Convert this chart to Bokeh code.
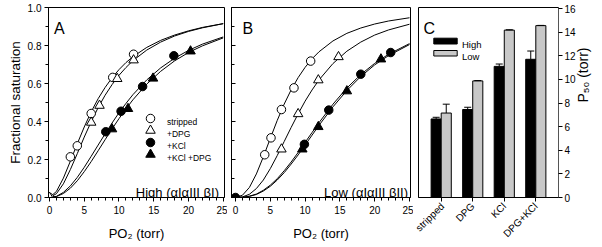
from math import pi
from bokeh.plotting import figure
from bokeh.models import (ColumnDataSource, Label, SingleIntervalTicker,
                          PrintfTickFormatter, CustomJSTickFormatter, Whisker, TeeHead,
                          FactorRange, Range1d)
from bokeh.transform import dodge
from bokeh.layouts import row
from bokeh.embed import file_html
from bokeh.resources import INLINE

FONT = "Liberation Sans"

# ---------------- data ----------------
FIT_X = [0, 1, 2, 3, 4, 5, 6, 7, 8, 9, 10, 11, 12, 14, 16, 18, 20, 22, 25]

A_FIT_STRIPPED = [0, 0.032, 0.102, 0.191, 0.283, 0.371, 0.451, 0.520, 0.579, 0.630, 0.673, 0.710, 0.741, 0.790, 0.827, 0.855, 0.877, 0.895, 0.915]
A_FIT_DPG = [0, 0.020, 0.072, 0.147, 0.231, 0.318, 0.399, 0.473, 0.538, 0.594, 0.643, 0.684, 0.720, 0.776, 0.818, 0.850, 0.874, 0.893, 0.915]
A_FIT_KCL = [0, 0.006, 0.027, 0.061, 0.106, 0.159, 0.217, 0.276, 0.335, 0.392, 0.446, 0.495, 0.541, 0.619, 0.682, 0.733, 0.774, 0.807, 0.845]
A_FIT_KCL_DPG = [0, 0.005, 0.021, 0.049, 0.088, 0.136, 0.189, 0.246, 0.304, 0.361, 0.415, 0.466, 0.514, 0.597, 0.664, 0.719, 0.763, 0.798, 0.840]

B_FIT_STRIPPED = [0, 0.012, 0.053, 0.124, 0.214, 0.311, 0.406, 0.492, 0.567, 0.631, 0.685, 0.730, 0.767, 0.824, 0.864, 0.892, 0.913, 0.929, 0.946]
B_FIT_DPG = [0, 0.003, 0.017, 0.047, 0.092, 0.152, 0.221, 0.295, 0.369, 0.440, 0.507, 0.566, 0.619, 0.705, 0.770, 0.818, 0.855, 0.882, 0.912]
B_FIT_KCL = [0, 0.001, 0.007, 0.018, 0.038, 0.065, 0.099, 0.141, 0.187, 0.237, 0.290, 0.342, 0.394, 0.491, 0.576, 0.647, 0.706, 0.754, 0.810]
B_FIT_KCL_DPG = [0, 0.001, 0.006, 0.016, 0.034, 0.059, 0.092, 0.131, 0.176, 0.224, 0.276, 0.328, 0.380, 0.477, 0.563, 0.637, 0.698, 0.747, 0.805]

A_STRIPPED_X = [0, 3.0, 4.0, 6.0, 9.1, 12.1]
A_STRIPPED_Y = [0, 0.214, 0.272, 0.442, 0.632, 0.754]
A_DPG_X = [0, 6.0, 7.2, 9.75, 12.1]
A_DPG_Y = [0, 0.395, 0.484, 0.625, 0.723]
A_KCL_X = [8.1, 10.3, 13.4, 17.9]
A_KCL_Y = [0.346, 0.454, 0.584, 0.746]
A_KCL_DPG_X = [9.0, 11.3, 14.9, 20.3]
A_KCL_DPG_Y = [0.360, 0.467, 0.627, 0.770]

B_STRIPPED_X = [4.2, 5.1, 6.6, 8.4, 10.8]
B_STRIPPED_Y = [0.225, 0.314, 0.463, 0.577, 0.718]
B_DPG_X = [6.6, 9.0, 11.9, 14.8]
B_DPG_Y = [0.254, 0.440, 0.618, 0.740]
B_KCL_X = [0, 9.9, 13.4, 18.0, 22.3]
B_KCL_Y = [0, 0.280, 0.460, 0.649, 0.763]
B_KCL_DPG_X = [9.6, 11.9, 16.0, 20.9]
B_KCL_DPG_Y = [0.254, 0.372, 0.560, 0.728]

LEGEND_LABELS = ["stripped", "+DPG", "+KCl", "+KCl +DPG"]

CATEGORIES = ["stripped", "DPG", "KCl", "DPG+KCl"]
P50_HIGH = [6.65, 7.45, 11.1, 11.7]
P50_HIGH_ERR = [0.14, 0.19, 0.2, 0.7]
P50_LOW = [7.15, 9.87, 14.17, 14.55]
P50_LOW_ERR = [0.75, 0.03, 0.03, 0.02]

# ---------------- pixel helpers (layout only) ----------------
A_SX = 173.7 / 25.0
B_SX = 174.0 / 25.0
Y_SY = 190.0
def ax(px): return (px - 49.0) / A_SX
def bx(px): return (px - 235.0) / B_SX
def ay(py): return (197.0 - py) / Y_SY
C_SX = 140.0 / 4.44
C_SY = 189.0 / 16.0
def cx(px): return -0.22 + (px - 418.0) / C_SX
def cy(py): return (197.0 - py) / C_SY


def lab(p, x, y, text, size, align="left", baseline="alphabetic", angle=0.0):
    p.add_layout(Label(x=x, y=y, text=text, text_font=FONT, text_font_size=size,
                       text_align=align, text_baseline=baseline, angle=angle,
                       text_color="black"))


def style_axes(p):
    p.xgrid.visible = False
    p.ygrid.visible = False
    for a in (p.xaxis[0], p.yaxis[0]):
        a.axis_line_color = "black"
        a.major_label_text_font = FONT
        a.major_label_text_font_size = "10px"
        a.major_label_text_color = "black"
        a.major_tick_line_color = "black"
        a.minor_tick_line_color = "black"
        a.axis_label_text_font = FONT
        a.axis_label_text_font_size = "13px"
        a.axis_label_text_font_style = "normal"
        a.axis_label_text_color = "black"
    p.xaxis.ticker = SingleIntervalTicker(interval=5, num_minor_ticks=5)
    p.xaxis.major_tick_out = 4
    p.xaxis.major_tick_in = 0
    p.xaxis.minor_tick_out = 3
    p.xaxis.minor_tick_in = 0
    p.xaxis.major_label_standoff = 4
    p.xaxis.axis_label = "PO\u2082 (torr)"
    p.xaxis.axis_label_standoff = 9
    p.yaxis.ticker = SingleIntervalTicker(interval=0.2, num_minor_ticks=2)


def curves_and_points(p, fits, pts):
    for f in fits:
        p.line(FIT_X, f, line_color="black", line_width=1)
    for (xs, ys, marker, fill) in pts:
        size = 8.5 if marker == "circle" else 9.5
        p.scatter(xs, ys, marker=marker, size=size, fill_color=fill,
                  line_color="black", line_width=1)


# ---------------- panel A ----------------
pA = figure(width=227, height=247, output_backend="svg", toolbar_location=None,
            x_range=Range1d(ax(48), ax(224)), y_range=Range1d(0, ay(7)),
            min_border_left=48, min_border_right=3, min_border_top=7, min_border_bottom=50,
            outline_line_color="black", background_fill_color="white", border_fill_color="white")
style_axes(pA)
pA.yaxis.formatter = PrintfTickFormatter(format="%.1f")
pA.yaxis.major_tick_out = 4
pA.yaxis.major_tick_in = 0
pA.yaxis.minor_tick_out = 3
pA.yaxis.minor_tick_in = 0
pA.yaxis.major_label_standoff = 3
pA.yaxis.axis_label = "Fractional saturation"
pA.yaxis.axis_label_text_font_size = "13.5px"
pA.yaxis.axis_label_standoff = 2
curves_and_points(pA, [A_FIT_STRIPPED, A_FIT_DPG, A_FIT_KCL, A_FIT_KCL_DPG],
                  [(A_STRIPPED_X, A_STRIPPED_Y, "circle", "white"),
                   (A_DPG_X, A_DPG_Y, "triangle", "white"),
                   (A_KCL_X, A_KCL_Y, "circle", "black"),
                   (A_KCL_DPG_X, A_KCL_DPG_Y, "triangle", "black")])
# legend
leg_style = [("circle", "white"), ("triangle", "white"), ("circle", "black"), ("triangle", "black")]
for i, ((m, f), t) in enumerate(zip(leg_style, LEGEND_LABELS)):
    rowy = 118 + 12 * i
    pA.scatter([ax(150)], [ay(rowy)], marker=m, size=8.5 if m == "circle" else 9.5,
               fill_color=f, line_color="black", line_width=1)
    lab(pA, ax(166.5), ay(rowy + 3.2), t, "8.5px")
lab(pA, ax(53.5), ay(28.3), "A", "16px")
lab(pA, ax(218.5), ay(191.5), "High (\u03b1I\u03b1III \u03b2I)", "13px", align="right")

# ---------------- panel B ----------------
pB = figure(width=186, height=247, output_backend="svg", toolbar_location=None,
            x_range=Range1d(bx(231), bx(410)), y_range=Range1d(0, ay(7)),
            min_border_left=4, min_border_right=3, min_border_top=7, min_border_bottom=50,
            outline_line_color="black", background_fill_color="white", border_fill_color="white")
style_axes(pB)
pB.yaxis.major_tick_out = 0
pB.yaxis.major_tick_in = 4
pB.yaxis.minor_tick_out = 0
pB.yaxis.minor_tick_in = 3
pB.yaxis.formatter = CustomJSTickFormatter(code="return ''")
pB.yaxis.major_label_standoff = 0
curves_and_points(pB, [B_FIT_STRIPPED, B_FIT_DPG, B_FIT_KCL, B_FIT_KCL_DPG],
                  [(B_STRIPPED_X, B_STRIPPED_Y, "circle", "white"),
                   (B_DPG_X, B_DPG_Y, "triangle", "white"),
                   (B_KCL_DPG_X, B_KCL_DPG_Y, "triangle", "black"),
                   (B_KCL_X, B_KCL_Y, "circle", "black")])
lab(pB, bx(242), ay(28.3), "B", "16px")
lab(pB, bx(407.5), ay(191.5), "Low (\u03b1I\u03b1III \u03b2II)", "13px", align="right")

# ---------------- panel C ----------------
src = ColumnDataSource(dict(
    cat=CATEGORIES, high=P50_HIGH, low=P50_LOW,
    high_up=[h + e for h, e in zip(P50_HIGH, P50_HIGH_ERR)],
    low_up=[l + e for l, e in zip(P50_LOW, P50_LOW_ERR)],
))
pC = figure(width=189, height=247, output_backend="svg", toolbar_location=None,
            x_range=FactorRange(*CATEGORIES, range_padding=0.11),
            y_range=Range1d(0, cy(7)), y_axis_location="right",
            min_border_left=5, min_border_right=44, min_border_top=7, min_border_bottom=50,
            outline_line_color="black", background_fill_color="white", border_fill_color="white")
pC.xgrid.visible = False
pC.ygrid.visible = False
pC.vbar(x=dodge("cat", -0.16, range=pC.x_range), top="high", width=0.32, source=src,
        fill_color="black", line_color="black", line_width=1)
pC.vbar(x=dodge("cat", 0.16, range=pC.x_range), top="low", width=0.32, source=src,
        fill_color="#c8c8c8", line_color="black", line_width=1)
pC.add_layout(Whisker(base=dodge("cat", -0.16, range=pC.x_range), lower="high", upper="high_up",
                      source=src, upper_head=TeeHead(size=7, line_color="black"), lower_head=None,
                      line_color="black", level="overlay"))
pC.add_layout(Whisker(base=dodge("cat", 0.16, range=pC.x_range), lower="low", upper="low_up",
                      source=src, upper_head=TeeHead(size=7, line_color="black"), lower_head=None,
                      line_color="black", level="overlay"))
ya = pC.yaxis[0]
ya.ticker = SingleIntervalTicker(interval=2, num_minor_ticks=0)
ya.axis_line_color = "#555555"
ya.major_tick_out = 4
ya.major_tick_in = 0
ya.minor_tick_line_color = None
ya.major_label_text_font = FONT
ya.major_label_text_font_size = "10px"
ya.major_label_text_color = "black"
ya.major_label_standoff = 2
ya.axis_label = "P\u2085\u2080 (torr)"
ya.axis_label_text_font = FONT
ya.axis_label_text_font_size = "14px"
ya.axis_label_text_font_style = "normal"
ya.axis_label_text_color = "black"
ya.axis_label_orientation = pi / 2
ya.axis_label_standoff = 4
xa = pC.xaxis[0]
xa.axis_line_color = "black"
xa.major_tick_out = 4
xa.major_tick_in = 0
xa.major_label_orientation = pi / 4
xa.major_label_text_font = FONT
xa.major_label_text_font_size = "10px"
xa.major_label_text_color = "black"
xa.major_label_standoff = 3
# legend C
pC.quad(left=cx(433.3), right=cx(456.7), top=cy(37.7), bottom=cy(43.5),
        fill_color="black", line_color="black")
pC.quad(left=cx(433.3), right=cx(456.7), top=cy(50), bottom=cy(55.5),
        fill_color="#c8c8c8", line_color="black")
lab(pC, cx(461.5), cy(44), "High", "9.5px")
lab(pC, cx(461.5), cy(56), "Low", "9.5px")
lab(pC, cx(423), cy(28.3), "C", "16px")

layout = row(pA, pB, pC)
open("out.html", "w").write(file_html(layout, INLINE))
